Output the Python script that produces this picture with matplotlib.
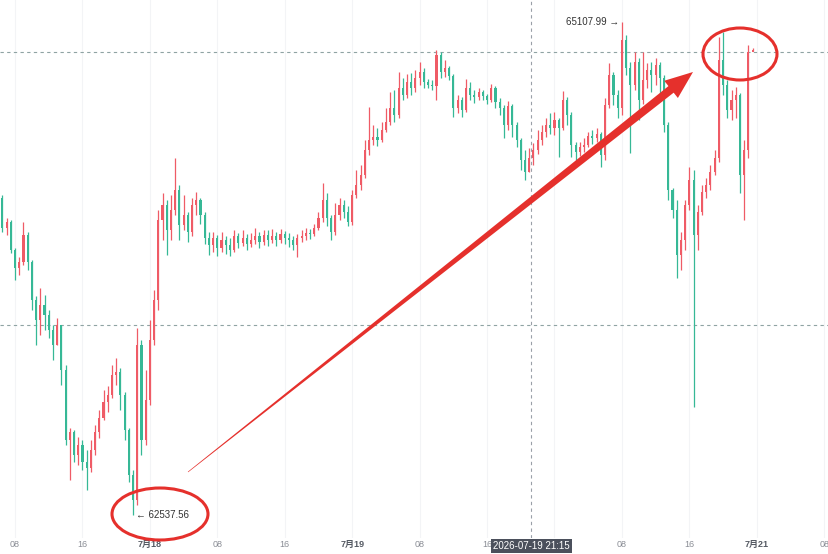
import matplotlib
matplotlib.use("Agg")
import matplotlib.pyplot as plt
import matplotlib.dates as mdates
from matplotlib.patches import Ellipse, Polygon
import numpy as np
import pandas as pd

plt.rcParams['font.family'] = ['Liberation Sans', 'Noto Sans CJK SC', 'DejaVu Sans']

# 30-minute candles, 2026-07-17 06:30 -> 2026-07-20 23:30
start_time = "2026-07-17 06:30"
first_open = 64191

close = [
    64034, 64065, 63920, 63826, 63857, 63998, 63857, 63659, 63555, 63633,
    63581, 63502, 63424, 63528, 63294, 62929, 62971, 62851, 62903, 62814,
    62783, 62877, 62971, 63044, 63127, 63164, 63268, 63283, 63164, 62981,
    62746, 62616, 63424, 62929, 63137, 63450, 63659, 64076, 64154, 64024,
    64128, 64232, 64050, 64102, 64013, 64154, 64180, 64102, 63982, 63946,
    63982, 63930, 63972, 63946, 63920, 63992, 63956, 63982, 63951, 63972,
    63992, 63961, 63998, 63972, 63992, 63972, 64003, 63982, 63972, 63946,
    63982, 63992, 64008, 64003, 64034, 64086, 64180, 64086, 64013, 64102,
    64154, 64118, 64065, 64206, 64258, 64311, 64441, 64493, 64509, 64493,
    64545, 64587, 64660, 64623, 64764, 64728, 64795, 64764, 64816, 64848,
    64795, 64780, 64775, 64936, 64848, 64868, 64827, 64660, 64702, 64649,
    64764, 64728, 64717, 64743, 64722, 64702, 64764, 64691, 64660, 64571,
    64670, 64571, 64493, 64389, 64326, 64399, 64441, 64493, 64535, 64571,
    64556, 64597, 64556, 64702, 64623, 64467, 64430, 64457, 64467, 64514,
    64504, 64524, 64415, 64676, 64832, 64728, 64660, 65014, 64868, 64780,
    64900, 64702, 64806, 64858, 64832, 64884, 64816, 64571, 64232, 64128,
    63893, 63972, 64154, 64284, 63998, 64118, 64222, 64258, 64326, 64399,
    64910, 64780, 64649, 64702, 64728, 64311, 64441, 64952, 64962,
]

high = [
    64206, 64086, 64076, 63930, 63883, 64065, 64013, 63867, 63680, 63721,
    63685, 63607, 63528, 63565, 63528, 63320, 62991, 62981, 62944, 62929,
    62877, 62929, 63007, 63085, 63188, 63211, 63320, 63356, 63304, 63179,
    62991, 62772, 63513, 63450, 63294, 63555, 63711, 64128, 64217, 64180,
    64206, 64399, 64258, 64206, 64118, 64191, 64222, 64191, 64118, 64013,
    64013, 63998, 64013, 63992, 63982, 64024, 64008, 64024, 64003, 64008,
    64034, 64013, 64024, 64024, 64029, 64013, 64029, 64019, 64008, 63992,
    64003, 64024, 64034, 64029, 64055, 64118, 64269, 64217, 64102, 64165,
    64191, 64180, 64149, 64232, 64337, 64363, 64493, 64665, 64571, 64555,
    64587, 64660, 64743, 64754, 64848, 64816, 64837, 64842, 64858, 64900,
    64868, 64811, 64806, 64962, 64952, 64910, 64879, 64837, 64728, 64717,
    64811, 64795, 64754, 64764, 64754, 64733, 64785, 64775, 64712, 64676,
    64696, 64681, 64587, 64503, 64441, 64451, 64477, 64545, 64571, 64608,
    64634, 64639, 64608, 64748, 64717, 64639, 64483, 64483, 64503, 64535,
    64545, 64556, 64535, 64712, 64894, 64848, 64754, 65107.99, 65041, 64900,
    64952, 64921, 64952, 64894, 64900, 64921, 64900, 64832, 64587, 64243,
    64180, 64013, 64180, 64352, 64337, 64154, 64258, 64295, 64363, 64441,
    65030, 65056, 64806, 64754, 64770, 64738, 64493, 64988, 64973,
]

low = [
    64013, 63998, 63904, 63763, 63789, 63841, 63815, 63607, 63424, 63476,
    63502, 63461, 63346, 63424, 63215, 62903, 62720, 62814, 62799, 62772,
    62668, 62762, 62851, 62939, 63033, 63075, 63148, 63216, 63085, 62929,
    62710, 62537.56, 62590, 62851, 62903, 63111, 63424, 63607, 63972, 63893,
    63972, 64102, 63972, 64024, 63961, 63992, 64102, 64055, 63951, 63893,
    63909, 63888, 63909, 63899, 63888, 63909, 63930, 63940, 63920, 63935,
    63951, 63930, 63946, 63940, 63956, 63940, 63956, 63951, 63935, 63920,
    63883, 63961, 63972, 63977, 63992, 64024, 64065, 64045, 63972, 63998,
    64076, 64086, 64045, 64050, 64191, 64232, 64295, 64415, 64467, 64462,
    64483, 64535, 64571, 64587, 64608, 64702, 64712, 64728, 64743, 64780,
    64764, 64764, 64754, 64702, 64816, 64822, 64806, 64613, 64634, 64613,
    64639, 64702, 64686, 64702, 64702, 64681, 64691, 64660, 64623, 64503,
    64545, 64509, 64457, 64337, 64284, 64326, 64363, 64420, 64467, 64509,
    64524, 64519, 64404, 64545, 64571, 64404, 64389, 64410, 64430, 64457,
    64472, 64483, 64352, 64389, 64660, 64676, 64608, 64623, 64832, 64425,
    64754, 64597, 64681, 64764, 64743, 64780, 64728, 64535, 64180, 64086,
    63773, 63815, 63919, 64128, 63101, 63919, 64102, 64191, 64232, 64311,
    64378, 64728, 64608, 64597, 64608, 64217, 64076, 64399, 64956,
]

grid_prices = [64952, 63528]
tick_times = pd.date_range("2026-07-17 08:00", "2026-07-21 08:00", freq="8h")
# the 7月20 label sits under the crosshair time box in the screenshot
tick_labels = ["08", "16", "7月18", "08", "16", "7月19", "08", "16",
               "", "08", "16", "7月21", "08"]
cross_time = "2026-07-19 21:15"
hi_label = "65107.99"
lo_label = "62537.56"

UP = "#ef5b66"     # red = up
DOWN = "#36b896"   # green = down

times = pd.date_range(start_time, periods=len(close), freq="30min")
x = mdates.date2num(times)
c = np.array(close, dtype=float)
o = np.concatenate([[first_open], c[:-1]])
h = np.array(high, dtype=float)
l = np.array(low, dtype=float)
up = c >= o
colors = np.where(up, UP, DOWN)

W, H = 829, 554
fig = plt.figure(figsize=(W / 100, H / 100), dpi=100)
ax = fig.add_axes([0, 16 / H, 1, 538 / H])

ax.set_xlim(mdates.date2num(pd.Timestamp("2026-07-17 06:13")),
            mdates.date2num(pd.Timestamp("2026-07-21 08:34")))
# 538 px tall, same price/pixel as the screenshot
ax.set_ylim(62417, 65223)

# faint vertical grid
for t in mdates.date2num(tick_times):
    ax.axvline(t, color="#f3f4f6", lw=0.8, zorder=0)
for p in grid_prices:
    ax.axhline(p, color="#8fa3a3", lw=0.8, ls=(0, (3, 3)), zorder=1)

ax.vlines(x, l, h, colors=colors, lw=0.9, zorder=2)
body_w = 0.5 / 24 * 0.5
ax.bar(x, np.maximum(np.abs(c - o), 3), bottom=np.minimum(o, c), width=body_w,
       color=colors, edgecolor="none", zorder=3)

# crosshair
xc = mdates.date2num(pd.Timestamp(cross_time))
ax.axvline(xc, color="#9aa0a8", lw=0.8, ls=(0, (3, 3)), zorder=4)
ax.text(xc, -0.006, cross_time, transform=ax.get_xaxis_transform(),
        ha="center", va="top", fontsize=7, color="white", zorder=10,
        clip_on=False,
        bbox=dict(boxstyle="square,pad=0.2", fc="#4b505c", ec="none"))

# max / min labels
ih = int(np.argmax(h))
il = int(np.argmin(l))
ax.annotate(hi_label + " →", xy=(x[ih], h[ih]), xytext=(-2, 0),
            textcoords="offset points", ha="right", va="center",
            fontsize=7, color="#333333", zorder=6)
ax.annotate("← " + lo_label, xy=(x[il], l[il]), xytext=(2, 0),
            textcoords="offset points", ha="left", va="center",
            fontsize=7, color="#333333", zorder=6)

ax.set_xticks(mdates.date2num(tick_times))
ax.set_xticklabels(tick_labels)
ax.tick_params(axis="x", length=0, pad=1.5, labelsize=6.5, labelcolor="#8a8d95")
for lab in ax.get_xticklabels():
    if "月" in lab.get_text():
        lab.set_color("#555a63")
        lab.set_fontweight("bold")
ax.set_yticks([])
for s in ax.spines.values():
    s.set_visible(False)


# hand-drawn red markup, in pixel coordinates of the screenshot
def fp(px, py):
    return (px / W, 1 - py / H)


red = "#e5302c"
for cx, cy, ew, eh in [(160, 514, 96, 52), (740, 54, 74, 52)]:
    fig.add_artist(Ellipse(fp(cx, cy), ew / W, eh / H, fill=False,
                           ec=red, lw=2.2, transform=fig.transFigure, zorder=20))

S = np.array([188.0, 472.0])
T = np.array([693.0, 72.0])
u = (T - S) / np.linalg.norm(T - S)
n = np.array([-u[1], u[0]])
B = T - 28 * u
pts = [S + 0.3 * n, B + 4.2 * n, B + 11 * n, T, B - 11 * n, B - 4.2 * n, S - 0.3 * n]
fig.add_artist(Polygon([fp(*p) for p in pts], closed=True, fc=red, ec="none",
                       transform=fig.transFigure, zorder=20))

fig.savefig("out.png", dpi=100)
